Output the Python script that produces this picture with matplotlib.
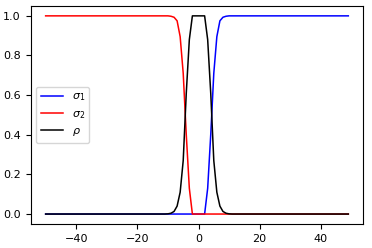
import numpy as np
import matplotlib
matplotlib.use("Agg")
import matplotlib.pyplot as plt

# grille en x : entiers de -50 à 49
x = np.arange(-50, 50)

# valeurs
sigma_1 = [0.0] * 53 + [0.13, 0.40, 0.71, 0.895, 0.975, 0.993, 0.998] + [1.0] * 40
sigma_2 = [1.0] * 41 + [0.998, 0.993, 0.975, 0.895, 0.71, 0.40, 0.13] + [0.0] * 52
rho = ([0.0] * 40
       + [0.001, 0.004, 0.013, 0.04, 0.11, 0.27, 0.61, 0.88]
       + [1.0] * 5
       + [0.88, 0.61, 0.27, 0.11, 0.04, 0.013, 0.004, 0.001]
       + [0.0] * 39)

plt.rcParams['font.size'] = 8

fig, ax = plt.subplots(figsize=(3.72, 2.48), dpi=100)
fig.subplots_adjust(left=0.082, right=0.977, top=0.976, bottom=0.097)

ax.plot(x, sigma_1, color='blue', lw=1.1, label=r'$\sigma_1$')
ax.plot(x, sigma_2, color='red', lw=1.1, label=r'$\sigma_2$')
ax.plot(x, rho, color='black', lw=1.1, label=r'$\rho$')

ax.set_xticks([-40, -20, 0, 20, 40])
ax.set_yticks([0.0, 0.2, 0.4, 0.6, 0.8, 1.0])
ax.legend(loc='center left')

fig.savefig("out.png", dpi=100)
